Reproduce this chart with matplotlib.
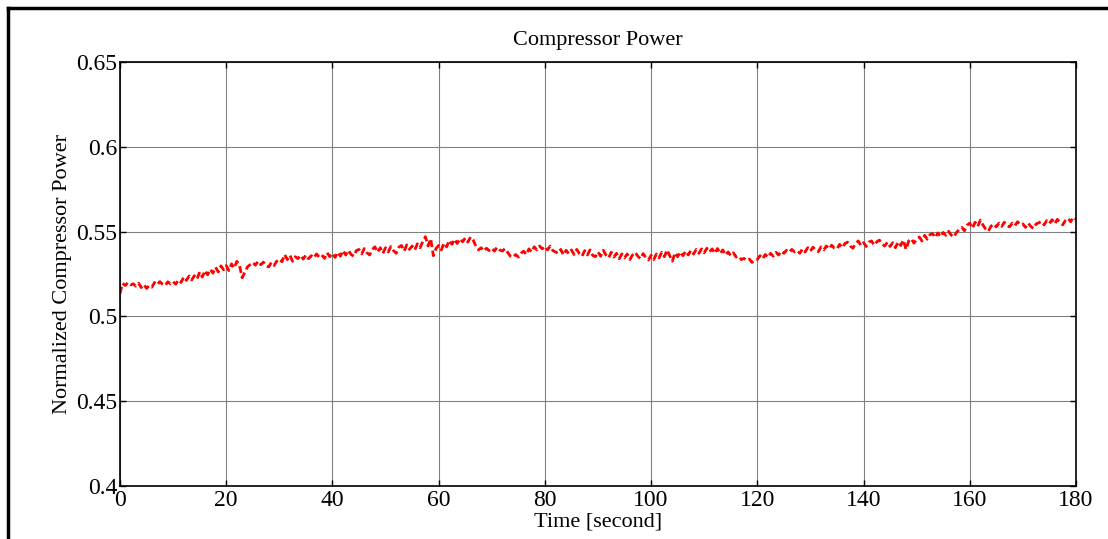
import numpy as np
import matplotlib.pyplot as plt
from matplotlib.lines import Line2D

plt.rcParams['font.family'] = ['Liberation Serif', 'DejaVu Serif']

# normalized compressor power, one sample every 0.5 s
power = [
    0.5135, 0.5195, 0.5182, 0.5200, 0.5186, 0.5192, 0.5178, 0.5196, 0.5170, 0.5188,
    0.5165, 0.5182, 0.5172, 0.5200, 0.5186, 0.5205, 0.5190, 0.5182, 0.5204, 0.5192,
    0.5205, 0.5190, 0.5215, 0.5200, 0.5232, 0.5212, 0.5238, 0.5215, 0.5240, 0.5220,
    0.5262, 0.5232, 0.5270, 0.5245, 0.5278, 0.5255, 0.5290, 0.5262, 0.5298, 0.5275,
    0.5300, 0.5270, 0.5310, 0.5285, 0.5325, 0.5300, 0.5228, 0.5260, 0.5292, 0.5305,
    0.5318, 0.5302, 0.5325, 0.5305, 0.5320, 0.5298, 0.5292, 0.5318, 0.5300, 0.5325,
    0.5338, 0.5322, 0.5365, 0.5335, 0.5360, 0.5325, 0.5352, 0.5340, 0.5360, 0.5338,
    0.5362, 0.5340, 0.5358, 0.5345, 0.5368, 0.5350, 0.5362, 0.5342, 0.5375, 0.5352,
    0.5372, 0.5348, 0.5378, 0.5355, 0.5388, 0.5362, 0.5390, 0.5365, 0.5355, 0.5388,
    0.5395, 0.5368, 0.5400, 0.5375, 0.5362, 0.5395, 0.5410, 0.5378, 0.5405, 0.5372,
    0.5405, 0.5380, 0.5412, 0.5388, 0.5372, 0.5408, 0.5418, 0.5385, 0.5422, 0.5395,
    0.5415, 0.5392, 0.5428, 0.5405, 0.5440, 0.5470, 0.5415, 0.5458, 0.5358, 0.5400,
    0.5418, 0.5392, 0.5432, 0.5410, 0.5448, 0.5425, 0.5455, 0.5430, 0.5458, 0.5440,
    0.5462, 0.5438, 0.5468, 0.5450, 0.5415, 0.5392, 0.5405, 0.5385, 0.5402, 0.5388,
    0.5402, 0.5385, 0.5408, 0.5392, 0.5385, 0.5400, 0.5378, 0.5355, 0.5348, 0.5365,
    0.5350, 0.5372, 0.5385, 0.5365, 0.5398, 0.5380, 0.5410, 0.5392, 0.5415, 0.5398,
    0.5412, 0.5392, 0.5415, 0.5388, 0.5380, 0.5372, 0.5395, 0.5362, 0.5390, 0.5370,
    0.5392, 0.5365, 0.5395, 0.5370, 0.5355, 0.5388, 0.5362, 0.5392, 0.5360, 0.5352,
    0.5380, 0.5355, 0.5390, 0.5362, 0.5345, 0.5378, 0.5350, 0.5372, 0.5340, 0.5368,
    0.5345, 0.5368, 0.5335, 0.5362, 0.5378, 0.5355, 0.5340, 0.5370, 0.5348, 0.5332,
    0.5360, 0.5335, 0.5368, 0.5345, 0.5378, 0.5352, 0.5392, 0.5358, 0.5325, 0.5375,
    0.5352, 0.5380, 0.5358, 0.5385, 0.5362, 0.5390, 0.5368, 0.5395, 0.5372, 0.5398,
    0.5375, 0.5402, 0.5380, 0.5398, 0.5372, 0.5400, 0.5370, 0.5392, 0.5362, 0.5380,
    0.5358, 0.5375, 0.5350, 0.5355, 0.5335, 0.5342, 0.5330, 0.5338, 0.5318, 0.5332,
    0.5335, 0.5358, 0.5340, 0.5365, 0.5348, 0.5372, 0.5355, 0.5378, 0.5362, 0.5385,
    0.5372, 0.5390, 0.5378, 0.5395, 0.5380, 0.5388, 0.5372, 0.5398, 0.5380, 0.5405,
    0.5385, 0.5408, 0.5390, 0.5382, 0.5410, 0.5392, 0.5415, 0.5398, 0.5420, 0.5402,
    0.5398, 0.5425, 0.5405, 0.5430, 0.5438, 0.5415, 0.5402, 0.5430, 0.5445, 0.5418,
    0.5435, 0.5412, 0.5438, 0.5445, 0.5420, 0.5440, 0.5450, 0.5425, 0.5415, 0.5438,
    0.5412, 0.5435, 0.5405, 0.5440, 0.5418, 0.5450, 0.5395, 0.5445, 0.5458, 0.5432,
    0.5455, 0.5468, 0.5445, 0.5478, 0.5455, 0.5482, 0.5488, 0.5465, 0.5492, 0.5470,
    0.5495, 0.5478, 0.5502, 0.5480, 0.5468, 0.5495, 0.5512, 0.5525, 0.5505, 0.5538,
    0.5550, 0.5520, 0.5555, 0.5530, 0.5568, 0.5538, 0.5515, 0.5502, 0.5532, 0.5545,
    0.5528, 0.5550, 0.5530, 0.5555, 0.5535, 0.5528, 0.5550, 0.5535, 0.5558, 0.5540,
    0.5545, 0.5525, 0.5550, 0.5530, 0.5518, 0.5545, 0.5552, 0.5560, 0.5540, 0.5565,
    0.5548, 0.5570, 0.5545, 0.5572, 0.5555, 0.5540, 0.5565, 0.5578, 0.5558, 0.5585,
    0.5572,
]
time = np.arange(len(power)) * 0.5

xticks = [0, 20, 40, 60, 80, 100, 120, 140, 160, 180]
yticks = [0.4, 0.45, 0.5, 0.55, 0.6, 0.65]
yticklabels = ['0.4', '0.45', '0.5', '0.55', '0.6', '0.65']

fig = plt.figure(figsize=(11.08, 5.39), dpi=100)
ax = fig.add_axes([0.1083, 0.0983, 0.8628, 0.7867])

ax.plot(time, power, color='red', linestyle=(0, (2.5, 1.3)), linewidth=2)

ax.set_xlim(0, 180)
ax.set_ylim(0.4, 0.65)
ax.set_xticks(xticks)
ax.set_yticks(yticks)
ax.set_yticklabels(yticklabels)
ax.grid(True, color='#808080', linewidth=0.8)
ax.tick_params(direction='in', length=4, width=1, top=True, right=True,
               labelsize=17)
ax.tick_params(axis='x', pad=3)
ax.tick_params(axis='y', pad=2)
for s in ax.spines.values():
    s.set_linewidth(1.2)

ax.set_title('Compressor Power', fontsize=16, pad=12)
ax.set_xlabel('Time [second]', fontsize=16, labelpad=1)
ax.set_ylabel('Normalized Compressor Power', fontsize=16, labelpad=3)

# outer frame (top and left edges visible)
fig.add_artist(Line2D([8 / 1108, 1], [1 - 8 / 539, 1 - 8 / 539],
                      transform=fig.transFigure, color='black', linewidth=2.5))
fig.add_artist(Line2D([8 / 1108, 8 / 1108], [0, 1 - 8 / 539],
                      transform=fig.transFigure, color='black', linewidth=2.5))

fig.savefig('out.png', dpi=100)
